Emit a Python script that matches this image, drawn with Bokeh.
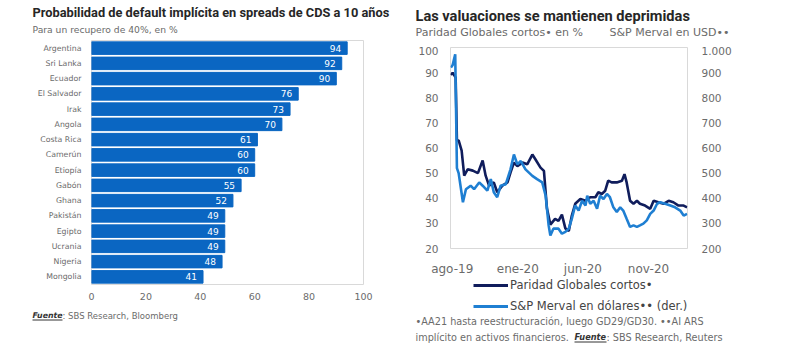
import pandas as pd
from bokeh.plotting import figure
from bokeh.layouts import row, column
from bokeh.models import (Range1d, FactorRange, LinearAxis, FixedTicker,
                          Legend, LegendItem)
from bokeh.core.properties import value
from bokeh.embed import file_html
from bokeh.resources import INLINE

# ---------------- data: left chart ----------------
countries = ["Argentina", "Sri Lanka", "Ecuador", "El Salvador", "Irak", "Angola",
             "Costa Rica", "Camerún", "Etiopía", "Gabón", "Ghana", "Pakistán",
             "Egipto", "Ucrania", "Nigeria", "Mongolia"]
default_prob = [94, 92, 90, 76, 73, 70, 61, 60, 60, 55, 52, 49, 49, 49, 48, 41]
x_ticks_left = [0, 20, 40, 60, 80, 100]

# ---------------- data: right chart ----------------
globales_dates = ["2019-07-29", "2019-08-02", "2019-08-09", "2019-08-12", "2019-08-16",
                  "2019-08-23", "2019-08-29", "2019-09-06", "2019-09-18", "2019-09-30",
                  "2019-10-11", "2019-10-18", "2019-10-26", "2019-11-06", "2019-11-14",
                  "2019-11-26", "2019-12-08", "2019-12-15", "2019-12-23", "2019-12-31",
                  "2020-01-12", "2020-01-23", "2020-02-04", "2020-02-11", "2020-02-23",
                  "2020-03-02", "2020-03-09", "2020-03-17", "2020-03-28", "2020-04-05",
                  "2020-04-13", "2020-04-21", "2020-04-29", "2020-05-06", "2020-05-14",
                  "2020-05-26", "2020-06-07", "2020-06-18", "2020-06-30", "2020-07-07",
                  "2020-07-15", "2020-07-23", "2020-07-30", "2020-08-07", "2020-08-19",
                  "2020-08-31", "2020-09-06", "2020-09-11", "2020-09-19", "2020-09-27",
                  "2020-10-05", "2020-10-12", "2020-10-24", "2020-11-05", "2020-11-13",
                  "2020-11-24", "2020-12-06", "2020-12-18", "2020-12-29", "2021-01-10",
                  "2021-01-22", "2021-01-30"]
globales = [89, 90, 88, 63, 63, 59, 49, 51.5, 51, 50,
            55, 49, 45, 46.3, 42.4, 45, 46.3, 50.2, 54.2, 52.8,
            54.2, 53.5, 57.4, 55.5, 52.2, 50.9, 36, 29.5, 31.8, 31,
            33.5, 28, 27, 33, 37.8, 39.7, 39, 40.4, 40.4, 42.4,
            41.7, 43, 47, 46.3, 46.3, 47, 49.6, 46.3, 39, 37.8,
            39, 37.8, 37.1, 35.8, 39, 38.4, 37.8, 39, 38.4, 37.1,
            37.1, 36.4]

merval_dates = ["2019-07-29", "2019-08-02", "2019-08-08", "2019-08-12", "2019-08-16",
                "2019-08-26", "2019-09-02", "2019-09-13", "2019-09-21", "2019-10-03",
                "2019-10-11", "2019-10-22", "2019-10-30", "2019-11-06", "2019-11-14",
                "2019-11-22", "2019-12-04", "2019-12-15", "2019-12-23", "2019-12-31",
                "2020-01-08", "2020-01-19", "2020-01-27", "2020-02-04", "2020-02-15",
                "2020-02-27", "2020-03-06", "2020-03-13", "2020-03-17", "2020-03-24",
                "2020-04-05", "2020-04-13", "2020-04-21", "2020-04-29", "2020-05-06",
                "2020-05-14", "2020-05-22", "2020-05-30", "2020-06-07", "2020-06-11",
                "2020-06-18", "2020-06-26", "2020-07-04", "2020-07-11", "2020-07-19",
                "2020-07-27", "2020-08-03", "2020-08-11", "2020-08-19", "2020-08-27",
                "2020-09-03", "2020-09-11", "2020-09-19", "2020-09-27", "2020-10-05",
                "2020-10-12", "2020-10-20", "2020-10-28", "2020-11-05", "2020-11-13",
                "2020-11-21", "2020-11-28", "2020-12-10", "2020-12-22", "2021-01-02",
                "2021-01-14", "2021-01-22", "2021-01-30"]
merval_usd = [920, 930, 973, 520, 500, 384, 436, 450, 436, 463,
              450, 430, 476, 424, 404, 450, 456, 515, 574, 535,
              548, 515, 502, 489, 476, 463, 410, 292, 252, 279,
              279, 259, 266, 279, 318, 371, 351, 390, 371, 410,
              378, 390, 358, 410, 397, 417, 404, 364, 345, 364,
              351, 318, 286, 292, 286, 292, 299, 312, 338, 351,
              378, 384, 378, 371, 364, 351, 331, 338]

date_tick_dates = ["2019-08-01", "2020-01-01", "2020-06-01", "2020-11-01"]
date_tick_labels = ["ago-19", "ene-20", "jun-20", "nov-20"]
left_ticks = [20, 30, 40, 50, 60, 70, 80, 90, 100]
right_ticks = [200, 300, 400, 500, 600, 700, 800, 900, 1000]
right_tick_labels = ["200", "300", "400", "500", "600", "700", "800", "900", "1.000"]

# ---------------- styles ----------------
FONT = "DejaVu Sans"
TFONT = "Roboto"
GRAY = "#6b6b6b"
TITLE_C = "#262626"
BAR_C = "#0a66c2"
NAVY = "#101d5c"
LIGHT = "#1f7fd2"


def text_fig(w, h):
    f = figure(width=w, height=h, output_backend="svg", toolbar_location=None,
               x_range=Range1d(0, w), y_range=Range1d(h, 0),
               x_axis_location=None, y_axis_location=None,
               min_border=0, outline_line_color=None, frame_align=False)
    f.xgrid.visible = False
    f.ygrid.visible = False
    return f


def txt(f, x, y, s, size="9px", color=GRAY, style="normal", font=FONT, align="left"):
    f.text(x=[x], y=[y], text=[s], text_font=value(font), text_font_size=size,
           text_color=color, text_font_style=style, text_align=align,
           text_baseline="middle")


def style_axis(ax, size, standoff):
    ax.axis_line_color = None
    ax.major_tick_line_color = None
    ax.minor_tick_line_color = None
    ax.major_tick_out = 0
    ax.major_tick_in = 0
    ax.minor_tick_out = 0
    ax.major_label_text_font = FONT
    ax.major_label_text_color = GRAY
    ax.major_label_text_font_size = size
    ax.major_label_standoff = standoff


# ================= left column =================
h1 = text_fig(400, 39)
txt(h1, 32, 12, "Probabilidad de default implícita en spreads de CDS a 10 años",
    size="12.8px", color=TITLE_C, style="bold", font=TFONT)
txt(h1, 32, 29, "Para un recupero de 40%, en %", size="9.2px")

p1 = figure(width=400, height=271, output_backend="svg", toolbar_location=None,
            y_range=FactorRange(*reversed(countries)), x_range=Range1d(0, 100),
            min_border_left=91, min_border_right=37, min_border_top=1, min_border_bottom=26,
            frame_align=False)
p1.hbar(y=countries, right=default_prob, height=0.82, color=BAR_C)
p1.text(x=default_prob, y=countries, text=[str(v) for v in default_prob], x_offset=-6,
        text_align="right", text_baseline="middle", text_color="white",
        text_font=value(FONT), text_font_size="9px")
p1.xgrid.visible = False
p1.ygrid.visible = False
p1.outline_line_color = "#d9d9d9"
p1.xaxis.ticker = FixedTicker(ticks=x_ticks_left)
style_axis(p1.xaxis[0], "9.5px", 8)
style_axis(p1.yaxis[0], "7.8px", 10)

f1 = text_fig(400, 38)
txt(f1, 32, 5, "Fuente", size="7.8px", color="#333333", style="bold italic")
f1.segment(x0=[32], y0=[9.5], x1=[62], y1=[9.5], line_color="#333333", line_width=1)
txt(f1, 62, 5, ": SBS Research, Bloomberg", size="8.5px")

# ================= right column =================
h2 = text_fig(400, 46)
txt(h2, 15, 15, "Las valuaciones se mantienen deprimidas", size="14.6px",
    color=TITLE_C, style="bold", font=TFONT)
txt(h2, 15, 32, "Paridad Globales cortos• en %", size="11px")
txt(h2, 209, 32, "S&P Merval en USD••", size="11px")

g_dt = pd.to_datetime(globales_dates)
m_dt = pd.to_datetime(merval_dates)
p2 = figure(width=400, height=232, output_backend="svg", toolbar_location=None,
            x_axis_type="datetime",
            x_range=Range1d(pd.Timestamp("2019-07-28"), pd.Timestamp("2021-01-31")),
            y_range=Range1d(20, 100),
            min_border_left=50, min_border_right=113, min_border_top=1, min_border_bottom=28,
            frame_align=False)
p2.extra_y_ranges = {"merval": Range1d(200, 1000)}
p2.line(g_dt, globales, line_color=NAVY, line_width=2.6)
p2.line(m_dt, merval_usd, line_color=LIGHT, line_width=2.6, y_range_name="merval")
p2.xgrid.visible = False
p2.ygrid.visible = False
p2.outline_line_color = "#d9d9d9"

tick_ms = [pd.Timestamp(d).value // 10**6 for d in date_tick_dates]
p2.xaxis.ticker = FixedTicker(ticks=tick_ms)
p2.xaxis.major_label_overrides = {t: l for t, l in zip(tick_ms, date_tick_labels)}
p2.yaxis.ticker = FixedTicker(ticks=left_ticks)

rax = LinearAxis(y_range_name="merval", ticker=FixedTicker(ticks=right_ticks))
rax.major_label_overrides = {t: l for t, l in zip(right_ticks, right_tick_labels)}
p2.add_layout(rax, "right")

style_axis(p2.xaxis[0], "12px", 13)
style_axis(p2.yaxis[0], "10.5px", 12)
style_axis(rax, "10.5px", 14)

f2 = text_fig(400, 70)
nan = float("nan")
l_nav = f2.line(x=[nan, nan], y=[nan, nan], line_color=NAVY, line_width=3.2)
l_lig = f2.line(x=[nan, nan], y=[nan, nan], line_color=LIGHT, line_width=3.2)
legend = Legend(items=[LegendItem(label="Paridad Globales cortos•", renderers=[l_nav]),
                       LegendItem(label="S&P Merval en dólares•• (der.)", renderers=[l_lig])],
                location=(73, 35.5), padding=0, margin=0, spacing=7,
                glyph_width=35, glyph_height=12, label_height=12, label_standoff=2,
                border_line_color=None, background_fill_alpha=0,
                label_text_font=FONT, label_text_font_size="11.5px",
                label_text_color="#444444")
f2.add_layout(legend)
txt(f2, 15, 43, "•AA21 hasta reestructuración, luego GD29/GD30. ••AI ARS", size="9.7px")
txt(f2, 15, 58.5, "implícito en activos financieros.", size="9.7px")
txt(f2, 174, 58.5, "Fuente", size="8.2px", color="#333333", style="bold italic")
f2.segment(x0=[174], y0=[63.5], x1=[206], y1=[63.5], line_color="#333333", line_width=1)
txt(f2, 206, 58.5, ": SBS Research, Reuters", size="9.7px")

layout = row(column(h1, p1, f1), column(h2, p2, f2))
open("out.html", "w").write(file_html(layout, INLINE))
